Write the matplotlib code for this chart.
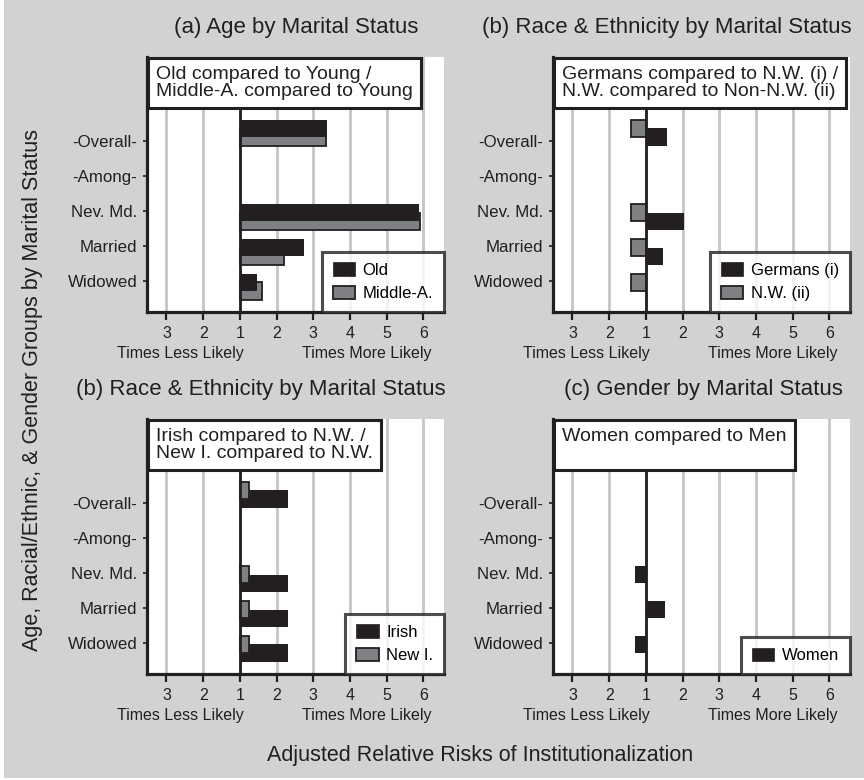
import numpy as np
import matplotlib
matplotlib.use('Agg')
import matplotlib.pyplot as plt
from matplotlib.patches import Patch, Rectangle
from matplotlib.ticker import NullLocator

plt.rcParams['font.family'] = ['Liberation Sans', 'DejaVu Sans']

# ---------------- data ----------------
categories = ['-Overall-', '-Among-', 'Nev. Md.', 'Married', 'Widowed']

old_rr = [3.38, np.nan, 5.88, 2.74, 1.48]
middle_rr = [3.35, np.nan, 5.91, 2.20, 1.59]
german_rr = [1.57, np.nan, 2.05, 1.47, np.nan]
nw_rr = [0.71, np.nan, 0.71, 0.71, 0.71]
irish_rr = [2.31, np.nan, 2.31, 2.31, 2.31]
newi_rr = [1.26, np.nan, 1.26, 1.26, 1.26]
women_rr = [np.nan, np.nan, 0.77, 1.52, 0.77]

tick_rr = [1/3, 1/2, 1, 2, 3, 4, 5, 6]
tick_labels = ['3', '2', '1', '2', '3', '4', '5', '6']

panel_titles = ['(a) Age by Marital Status',
                '(b) Race & Ethnicity by Marital Status',
                '(b) Race & Ethnicity by Marital Status',
                '(c) Gender by Marital Status']
box_texts = ['Old compared to Young /\nMiddle-A. compared to Young',
             'Germans compared to N.W. (i) /\nN.W. compared to Non-N.W. (ii)',
             'Irish compared to N.W. /\nNew I. compared to N.W.',
             'Women compared to Men\n ']

# ---------------- style ----------------
BG = '#d1d2d4'
BLACK = '#231f20'
GRAY = '#7f8083'
GRID = '#c4c5c7'
W, H = 864, 780

def fwd(x):
    x = np.asarray(x, dtype=float)
    xs = np.maximum(x, 1e-9)
    return np.where(x >= 1, x - 1, 1 - 1 / xs)

def inv(p):
    p = np.asarray(p, dtype=float)
    return np.where(p >= 0, p + 1, 1 / (1 - np.minimum(p, 0)))

# series: (values, label, color, slot)  slot 0 = upper, 1 = lower
panels = [
    [(old_rr, 'Old', BLACK, 0), (middle_rr, 'Middle-A.', GRAY, 1)],
    [(german_rr, 'Germans (i)', BLACK, 1), (nw_rr, 'N.W. (ii)', GRAY, 0)],
    [(irish_rr, 'Irish', BLACK, 1), (newi_rr, 'New I.', GRAY, 0)],
    [(women_rr, 'Women', BLACK, 0)],
]

fig = plt.figure(figsize=(W / 100, H / 100), dpi=100)
fig.patch.set_facecolor('white')
fig.patches.append(Rectangle((4 / W, 2 / H), 1 - 4 / W, 1 - 2 / H,
                             transform=fig.transFigure, facecolor=BG,
                             edgecolor='none', zorder=-10))

ax_px = [(147, 57), (553, 57), (147, 419), (553, 419)]  # left, top in px
title_cx = [296, 667, 261, 703]
AW, AH = 297, 255

slot_off = [0.05, 0.30]
bar_h = 0.5
overall_shift = -0.42

for i, (lx, ty) in enumerate(ax_px):
    ax = fig.add_axes([lx / W, 1 - (ty + AH) / H, AW / W, AH / H])
    ax.set_facecolor('white')
    ax.set_xscale('function', functions=(fwd, inv))
    ax.set_xlim(0.2833, 6.56)
    ax.set_ylim(4.9, -2.42)

    ypos = np.arange(len(categories))
    # draw lower slot first, upper slot on top
    for vals, lab, col, slot in sorted(panels[i], key=lambda s: -s[3]):
        vals = np.asarray(vals, dtype=float)
        ok = ~np.isnan(vals)
        yy = ypos + slot_off[slot] + np.where(ypos == 0, overall_shift, 0.0)
        ax.barh(yy[ok], vals[ok] - 1, left=1, height=bar_h, color=col,
                edgecolor=BLACK, linewidth=1.3 if col == GRAY else 0.0,
                zorder=3 + (1 - slot))

    ax.set_xticks(tick_rr)
    ax.set_xticklabels(tick_labels)
    ax.xaxis.set_minor_locator(NullLocator())
    ax.set_yticks(ypos)
    ax.set_yticklabels(categories)
    ax.tick_params(axis='x', length=6, width=1.6, color=BLACK, labelsize=11.5,
                   labelcolor=BLACK, pad=4.2)
    ax.tick_params(axis='y', length=3, width=1.2, color=BLACK, labelsize=12.2,
                   labelcolor=BLACK, pad=4)
    ax.grid(axis='x', color=GRID, linewidth=2.0, zorder=1)
    ax.set_axisbelow(True)
    ax.axvline(1, color=BLACK, linewidth=2.0, zorder=4.5)

    for s in ['top', 'right']:
        ax.spines[s].set_visible(False)
    for s in ['left', 'bottom']:
        ax.spines[s].set_linewidth(2.3)
        ax.spines[s].set_color(BLACK)
        ax.spines[s].set_zorder(6)

    # annotation box
    fs = 14
    pad = 0.42
    ax.annotate(box_texts[i], xy=(0, 1), xycoords='axes fraction',
                xytext=(pad * fs + 0.5, -pad * fs - 0.8), textcoords='offset points',
                ha='left', va='top', fontsize=fs, color=BLACK, linespacing=0.98,
                bbox=dict(boxstyle=f'square,pad={pad}', fc='white', ec=BLACK, lw=2.2),
                zorder=7, annotation_clip=False)

    # Times less / more likely
    for xr, txt in [(0.38, 'Times Less Likely'), (4.46, 'Times More Likely')]:
        ax.annotate(txt, xy=(xr, 0), xycoords=('data', 'axes fraction'),
                    xytext=(0, -29.6), textcoords='offset points',
                    ha='center', va='center', fontsize=11.5, color=BLACK,
                    annotation_clip=False)

    # legend (black first)
    handles = []
    for vals, lab, col, slot in sorted(panels[i], key=lambda s: s[2] != BLACK):
        handles.append(Patch(facecolor=col, edgecolor=BLACK,
                             linewidth=1.3 if col == GRAY else 0.5, label=lab))
    leg = ax.legend(handles=handles, loc='lower right', borderaxespad=0,
                    fontsize=12, frameon=True, fancybox=False, edgecolor=BLACK,
                    handlelength=1.35, handleheight=0.9, handletextpad=0.45,
                    labelspacing=0.45, borderpad=0.65)
    leg.get_frame().set_linewidth(2.2)
    leg.set_zorder(8)

    # panel title
    fig.text(title_cx[i] / W, 1 - (ty - 29) / H, panel_titles[i],
             ha='center', va='center', fontsize=16, color=BLACK)

fig.text(33 / W, 1 - 390 / H,
         'Age, Racial/Ethnic, & Gender Groups by Marital Status',
         rotation=90, ha='center', va='center', fontsize=15.5, color=BLACK)
fig.text(480 / W, 1 - 756 / H, 'Adjusted Relative Risks of Institutionalization',
         ha='center', va='center', fontsize=15.5, color=BLACK)

fig.savefig('out.png', dpi=100, facecolor='white')
